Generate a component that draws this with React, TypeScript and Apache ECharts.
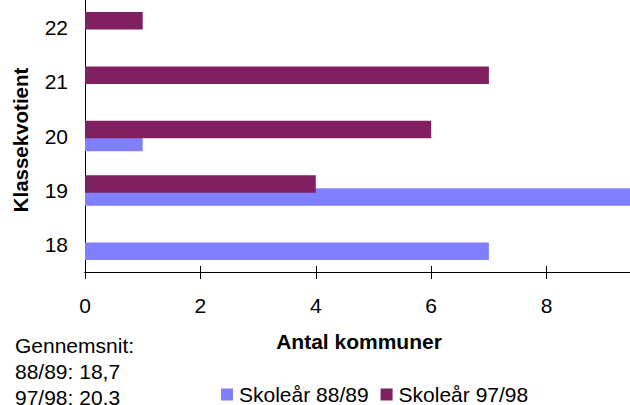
import React, { useEffect, useRef } from "react";
import * as echarts from "echarts";

const categories = ["18", "19", "20", "21", "22"];
const skole8889 = [7, 10, 1, 0, 0];
const skole9798 = [0, 4, 6, 7, 1];
const xTicks = { min: 0, max: 10, interval: 2 };
const seriesNames = ["Skoleår 88/89", "Skoleår 97/98"];
const avgLines = ["Gennemsnit:", "88/89: 18,7", "97/98: 20,3"];
const xName = "Antal kommuner";
const yName = "Klassekvotient";

const FONT = "'Liberation Sans', Arial, sans-serif";
const CHART_W = 700;

export default function App() {
  const ref = useRef<HTMLDivElement>(null);
  useEffect(() => {
    if (!ref.current) return;
    const chart = echarts.init(ref.current, undefined, { renderer: "svg" });
    const axisLine = { show: true, lineStyle: { color: "#000", width: 1 } };
    chart.setOption({
      animation: false,
      backgroundColor: "#fff",
      textStyle: { fontFamily: FONT },
      grid: { left: 85, right: CHART_W - 662, top: -3, bottom: 133, containLabel: false },
      xAxis: [
        {
          type: "value",
          position: "bottom",
          min: xTicks.min,
          max: xTicks.max,
          interval: xTicks.interval,
          axisLine,
          axisTick: { show: true, inside: false, length: 7, lineStyle: { color: "#000" } },
          axisLabel: {
            color: "#000",
            fontSize: 21,
            fontFamily: FONT,
            margin: 23,
            showMaxLabel: false,
          },
          splitLine: { show: false },
        },
        {
          type: "value",
          position: "bottom",
          min: xTicks.min,
          max: xTicks.max,
          interval: xTicks.interval,
          axisLine,
          axisTick: { show: true, inside: true, length: 6, lineStyle: { color: "#000" } },
          axisLabel: { show: false },
          splitLine: { show: false },
        },
      ],
      yAxis: {
        type: "category",
        data: categories,
        axisLine,
        axisTick: { show: false },
        axisLabel: { color: "#000", fontSize: 21, fontFamily: FONT, margin: 17 },
        splitLine: { show: false },
      },
      legend: {
        data: seriesNames,
        left: 216,
        top: 379,
        itemWidth: 12,
        itemHeight: 12,
        itemGap: 12,
        icon: "rect",
        textStyle: { color: "#000", fontSize: 21, fontFamily: FONT, padding: [0, 0, 0, 1] },
      },
      series: [
        {
          name: seriesNames[1],
          type: "bar",
          data: skole9798,
          barWidth: 17.5,
          barGap: "-26%",
          itemStyle: { color: "#802060" },
          z: 3,
        },
        {
          name: seriesNames[0],
          type: "bar",
          data: skole8889,
          barWidth: 17.5,
          barGap: "-26%",
          itemStyle: { color: "#8080FF" },
          z: 2,
        },
      ],
      graphic: [
        {
          type: "text",
          x: 20,
          y: 140,
          rotation: Math.PI / 2,
          style: {
            text: yName,
            fontSize: 20.5,
            fontWeight: "bold",
            fontFamily: FONT,
            fill: "#000",
            textAlign: "center",
            textVerticalAlign: "middle",
          },
        },
        {
          type: "text",
          x: 359,
          y: 341,
          style: {
            text: xName,
            fontSize: 21,
            fontWeight: "bold",
            fontFamily: FONT,
            fill: "#000",
            textAlign: "center",
            textVerticalAlign: "middle",
          },
        },
        ...avgLines.map((t, i) => ({
          type: "text",
          x: 15,
          y: 345 + i * 26,
          style: {
            text: t,
            fontSize: 21,
            fontFamily: FONT,
            fill: "#000",
            textAlign: "left",
            textVerticalAlign: "middle",
          },
        })),
      ],
    });
    return () => chart.dispose();
  }, []);
  return (
    <div
      style={{
        position: "fixed",
        left: 0,
        top: 0,
        width: 630,
        height: 405,
        overflow: "hidden",
        background: "#fff",
      }}
    >
      <div ref={ref} style={{ width: CHART_W, height: 405 }} />
    </div>
  );
}
